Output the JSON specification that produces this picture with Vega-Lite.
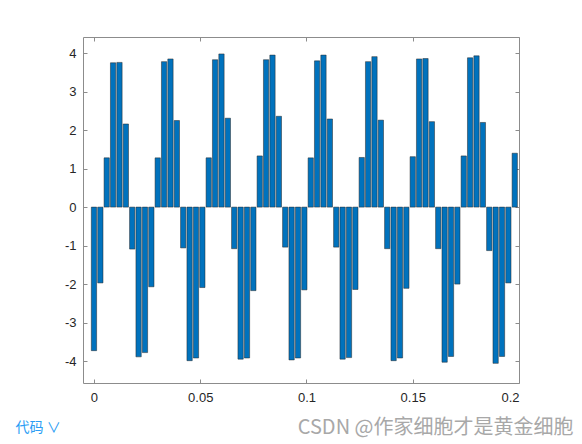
{
  "$schema": "https://vega.github.io/schema/vega-lite/v6.json",
  "width": 436,
  "height": 346,
  "autosize": {"type": "none"},
  "padding": {"left": 83, "top": 37, "right": 63, "bottom": 61},
  "background": "white",
  "data": {"values": [
    {"t": 0, "v": -3.73}, {"t": 0.003, "v": -1.97}, {"t": 0.006, "v": 1.28}, {"t": 0.009, "v": 3.75},
    {"t": 0.012, "v": 3.76}, {"t": 0.015, "v": 2.16}, {"t": 0.018, "v": -1.09}, {"t": 0.021, "v": -3.89},
    {"t": 0.024, "v": -3.78}, {"t": 0.027, "v": -2.07}, {"t": 0.03, "v": 1.28}, {"t": 0.033, "v": 3.78},
    {"t": 0.036, "v": 3.85}, {"t": 0.039, "v": 2.25}, {"t": 0.042, "v": -1.06}, {"t": 0.045, "v": -3.99},
    {"t": 0.048, "v": -3.92}, {"t": 0.051, "v": -2.09}, {"t": 0.054, "v": 1.28}, {"t": 0.057, "v": 3.83},
    {"t": 0.06, "v": 3.98}, {"t": 0.063, "v": 2.31}, {"t": 0.066, "v": -1.08}, {"t": 0.069, "v": -3.95},
    {"t": 0.072, "v": -3.92}, {"t": 0.075, "v": -2.17}, {"t": 0.078, "v": 1.33}, {"t": 0.081, "v": 3.83},
    {"t": 0.084, "v": 3.95}, {"t": 0.087, "v": 2.36}, {"t": 0.09, "v": -1.04}, {"t": 0.093, "v": -3.97},
    {"t": 0.096, "v": -3.92}, {"t": 0.099, "v": -2.15}, {"t": 0.102, "v": 1.28}, {"t": 0.105, "v": 3.8},
    {"t": 0.108, "v": 3.95}, {"t": 0.111, "v": 2.29}, {"t": 0.114, "v": -1.04}, {"t": 0.117, "v": -3.95},
    {"t": 0.12, "v": -3.91}, {"t": 0.123, "v": -2.14}, {"t": 0.126, "v": 1.29}, {"t": 0.129, "v": 3.78},
    {"t": 0.132, "v": 3.91}, {"t": 0.135, "v": 2.26}, {"t": 0.138, "v": -1.08}, {"t": 0.141, "v": -3.99},
    {"t": 0.144, "v": -3.92}, {"t": 0.147, "v": -2.11}, {"t": 0.15, "v": 1.31}, {"t": 0.153, "v": 3.85},
    {"t": 0.156, "v": 3.86}, {"t": 0.159, "v": 2.22}, {"t": 0.162, "v": -1.08}, {"t": 0.165, "v": -4.03},
    {"t": 0.168, "v": -3.88}, {"t": 0.171, "v": -2.0}, {"t": 0.174, "v": 1.33}, {"t": 0.177, "v": 3.88},
    {"t": 0.18, "v": 3.93}, {"t": 0.183, "v": 2.2}, {"t": 0.186, "v": -1.13}, {"t": 0.189, "v": -4.06},
    {"t": 0.192, "v": -3.88}, {"t": 0.195, "v": -1.97}, {"t": 0.198, "v": 1.4}
  ]},
  "layer": [
    {
      "mark": {"type": "bar", "orient": "vertical", "width": 5.3, "fill": "#0072BD", "stroke": "#262626", "strokeWidth": 0.5, "clip": true},
      "encoding": {
        "x": {
          "field": "t", "type": "quantitative",
          "scale": {"domain": [-0.00516, 0.2], "nice": false, "zero": false, "padding": 0},
          "axis": {
            "orient": "bottom", "values": [0, 0.05, 0.1, 0.15, 0.2],
            "labelExpr": "toString(datum.value)",
            "title": "代码 ∨", "titleX": -68, "titleY": 44, "titleAlign": "left", "titleBaseline": "middle",
            "titleColor": "#2a9df4", "titleFont": "Noto Sans CJK SC", "titleFontSize": 14, "titleFontWeight": "normal", "titleAngle": 0
          }
        },
        "y": {
          "field": "v", "type": "quantitative",
          "scale": {"domain": [-4.57, 4.42], "nice": false, "zero": false, "padding": 0},
          "axis": {
            "orient": "left", "values": [-4, -3, -2, -1, 0, 1, 2, 3, 4],
            "labelExpr": "toString(datum.value)", "title": null
          }
        }
      }
    },
    {
      "mark": {"type": "bar", "orient": "vertical", "width": 5.3, "opacity": 0},
      "encoding": {
        "x": {
          "field": "t", "type": "quantitative",
          "axis": {
            "orient": "top", "values": [0, 0.05, 0.1, 0.15, 0.2], "labels": false,
            "title": "CSDN @作家细胞才是黄金细胞", "titleX": 490, "titleY": 390, "titleAlign": "right", "titleBaseline": "middle",
            "titleColor": "#a8a8a8", "titleFont": "Noto Sans CJK SC", "titleFontSize": 20, "titleFontWeight": "normal", "titleAngle": 0
          }
        },
        "y": {
          "field": "v", "type": "quantitative",
          "axis": {"orient": "right", "values": [-4, -3, -2, -1, 0, 1, 2, 3, 4], "labels": false, "title": null}
        }
      }
    }
  ],
  "resolve": {"axis": {"x": "independent", "y": "independent"}},
  "config": {
    "view": {"stroke": null},
    "axis": {
      "grid": false,
      "domainColor": "#8c8c8c",
      "domainWidth": 1,
      "tickColor": "#8c8c8c",
      "tickSize": -4,
      "tickWidth": 1,
      "labelFont": "Liberation Sans",
      "labelFontSize": 13,
      "labelColor": "#262626",
      "labelPadding": 12
    },
    "axisY": {"labelPadding": 11}
  }
}
